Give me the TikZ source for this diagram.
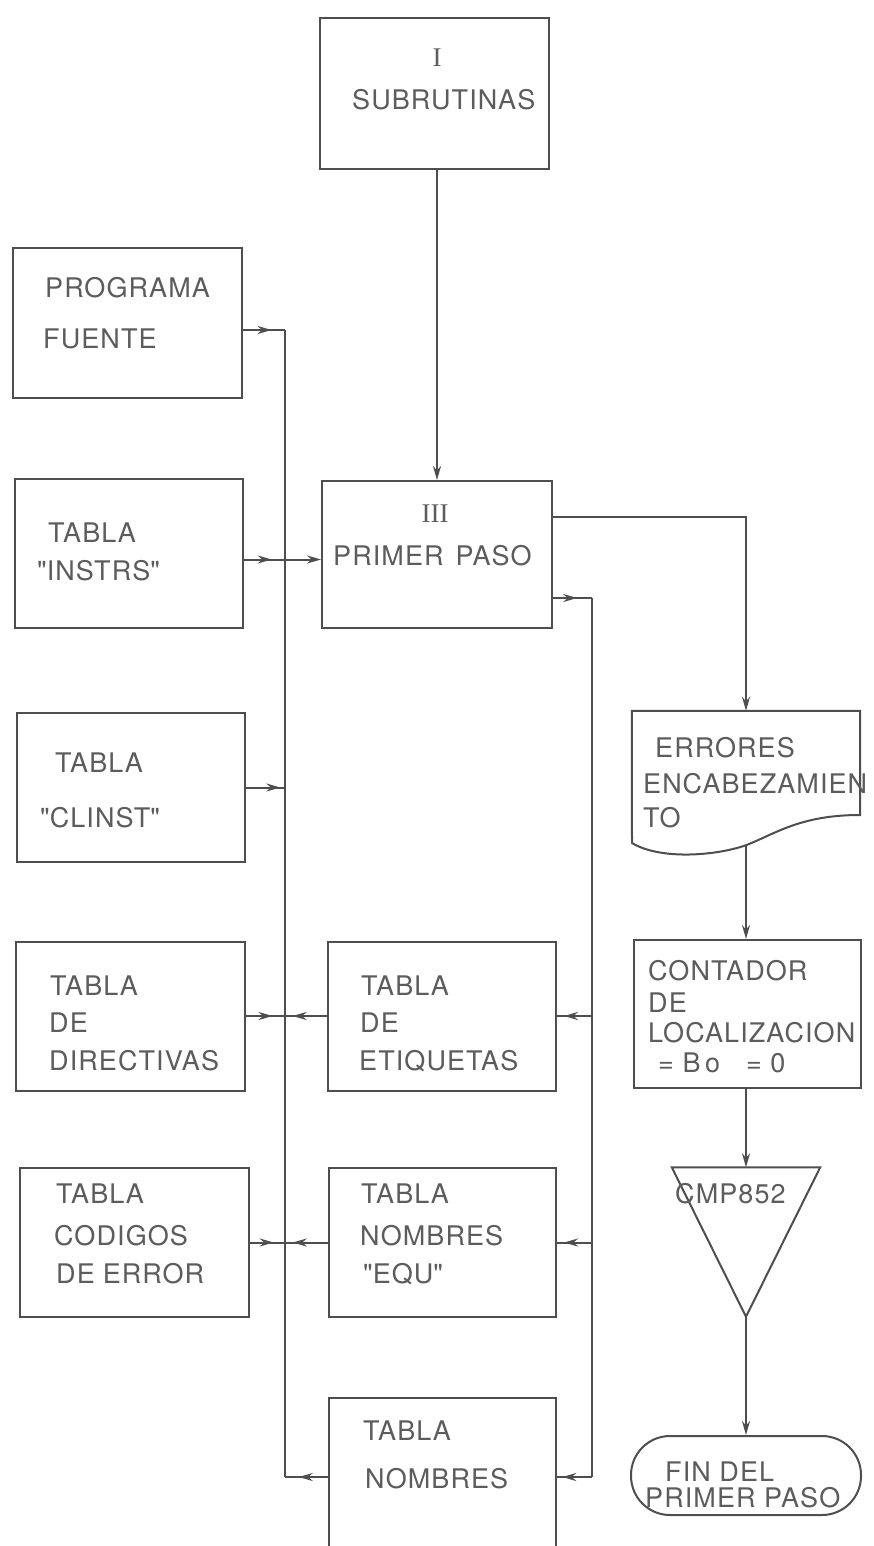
\documentclass[tikz,border=0pt]{standalone}
\usepackage{fontspec}
\setmainfont{TeX Gyre Heros}[LetterSpace=4.0]
\newfontfamily\romnum{Liberation Serif}
\usetikzlibrary{arrows.meta,decorations.markings}
\definecolor{ink}{HTML}{4E4E4E}
\definecolor{txtc}{HTML}{5C5C5C}
\newcommand{\qd}{\textquotedbl}
\tikzset{
  ln/.style={draw=ink, line width=2pt},
  tbox/.style={ln, rectangle, inner sep=0pt},
  ghost/.style={rectangle, inner sep=0pt},
  tx/.style={text=txtc, inner sep=0pt, anchor=base west, font=\fontsize{27}{30}\selectfont},
  txc/.style={tx, anchor=base},
  arr/.style={ln, -{Stealth[length=14pt,width=8pt]}},
  midarr/.style={ln, postaction={decorate}, decoration={markings, mark=at position #1 with {\arrow{Stealth[length=14pt,width=8pt]}}}},
}
\begin{document}
\begin{tikzpicture}[x=1pt,y=-1pt]
\useasboundingbox (0,0) rectangle (873,1546);
\fill[white] (0,0) rectangle (873,1546);
\clip (0,0) rectangle (873,1546);

% boxes
\node[tbox, minimum width=229pt, minimum height=151pt] (sub) at (434,93.5) {};
\node[tbox, minimum width=229pt, minimum height=150pt] (fuente) at (127.5,323) {};
\node[tbox, minimum width=228pt, minimum height=149pt] (instrs) at (129,553.5) {};
\node[tbox, minimum width=230pt, minimum height=147pt] (paso) at (437,554.5) {};
\node[tbox, minimum width=228pt, minimum height=149pt] (clinst) at (131,787.5) {};
\node[tbox, minimum width=229pt, minimum height=149pt] (direct) at (130.5,1016) {};
\node[tbox, minimum width=228pt, minimum height=149pt] (etiq) at (442,1016) {};
\node[tbox, minimum width=229pt, minimum height=149pt] (codigos) at (134,1242.5) {};
\node[tbox, minimum width=227pt, minimum height=149pt] (equ) at (442.5,1242.5) {};
\node[tbox, minimum width=227pt, minimum height=158pt] (nombres) at (442.5,1477) {};
\node[tbox, minimum width=227pt, minimum height=148pt] (cont) at (747.5,1014) {};
\node[ghost, minimum width=228pt, minimum height=134pt] (doc) at (746,778) {};
\node[ghost, minimum width=148pt, minimum height=149pt] (tri) at (746,1242) {};
\node[tbox, rounded corners=39pt, minimum width=230pt, minimum height=79pt] (fin) at (746,1475.5) {};

% document shape
\draw[ln] (doc.north west) -- (doc.north east) -- (860,815)
  .. controls (800,815) and (775,834) .. (doc.south)
  .. controls (715,856) and (660,860) .. (632,843) -- cycle;
% merge triangle
\draw[ln, line join=miter] (tri.north west) -- (tri.north east) -- (tri.south) -- cycle;

% texts
\node[txc, font=\romnum\fontsize{27}{30}\selectfont] (t-sub1) at (437,67) {I};
\node[tx] (t-sub2) at (352,110) {SUBRUTINAS};
\node[tx] (t-fue1) at (45,297) {PROGRAMA};
\node[tx] (t-fue2) at (43,348) {FUENTE};
\node[tx] (t-ins1) at (48,542) {TABLA};
\node[tx] (t-ins2) at (37,580) {\qd INSTRS\qd};
\node[txc, font=\romnum\fontsize{27}{30}\selectfont] (t-pas1) at (435,522) {III};
\node[tx] (t-pas2) at (333,565) {PRIMER\hspace{12pt}PASO};
\node[tx] (t-cli1) at (55,772) {TABLA};
\node[tx] (t-cli2) at (40,827) {\qd CLINST\qd};
\node[tx] (t-dir1) at (50,995) {TABLA};
\node[tx] (t-dir2) at (49,1032) {DE};
\node[tx] (t-dir3) at (49,1070) {DIRECTIVAS};
\node[tx] (t-eti1) at (361,995) {TABLA};
\node[tx] (t-eti2) at (360,1032) {DE};
\node[tx] (t-eti3) at (359,1070) {ETIQUETAS};
\node[tx] (t-cod1) at (56,1203) {TABLA};
\node[tx] (t-cod2) at (54,1245) {CODIGOS};
\node[tx] (t-cod3) at (56,1283) {DE\hspace{8pt}ERROR};
\node[tx] (t-equ1) at (361,1203) {TABLA};
\node[tx] (t-equ2) at (360,1245) {NOMBRES};
\node[tx] (t-equ3) at (363,1283) {\qd EQU\qd};
\node[tx] (t-nom1) at (363,1440) {TABLA};
\node[tx] (t-nom2) at (365,1488) {NOMBRES};
\node[tx] (t-doc1) at (655,757) {ERRORES};
\node[tx] (t-doc2) at (643,793) {ENCABEZAMIEN};
\node[tx] (t-doc3) at (643,827) {TO};
\node[tx] (t-con1) at (648,980) {CONTADOR};
\node[tx] (t-con2) at (648,1012) {DE};
\node[tx] (t-con3) at (648,1042) {LOCALIZACION};
\node[tx] (t-con4) at (658,1072) {=\ B\,o\hspace{26pt}=\ 0};
\node[tx] (t-cmp) at (675,1203) {CMP852};
\node[tx] (t-fin1) at (665,1481) {FIN\ DEL};
\node[tx] (t-fin2) at (645,1507) {PRIMER\ PASO};

% bus coordinates
\coordinate (busTop) at (285,330);
\coordinate (busBot) at (285,1477);
\coordinate (rTop) at (592,598);
\coordinate (rBot) at (592,1477);
\coordinate (iy) at ([yshift=-6pt]instrs.east);
\coordinate (po) at ([yshift=-37pt]paso.north east);

% connectors
\draw[arr] (paso.north |- sub.south) -- (paso.north);
\draw[midarr=0.68] (fuente.east |- busTop) -- (busTop);
\draw[ln] (busTop) -- (busBot);
\draw[arr, midarr=0.36] (iy) -- (iy -| paso.west);
\draw[midarr=0.88] (clinst.east) -- (clinst.east -| busTop);
\draw[midarr=0.68] (direct.east) -- (direct.east -| busTop);
\draw[midarr=0.82] (etiq.west) -- (etiq.west -| busTop);
\draw[midarr=0.68] (codigos.east) -- (codigos.east -| busTop);
\draw[midarr=0.82] (equ.west) -- (equ.west -| busTop);
\draw[midarr=0.68] (nombres.west |- busBot) -- (busBot);
\draw[midarr=0.62] (paso.east |- rTop) -- (rTop);
\draw[ln] (rTop) -- (rBot);
\draw[midarr=0.8] (etiq.east -| rTop) -- (etiq.east);
\draw[midarr=0.8] (equ.east -| rTop) -- (equ.east);
\draw[midarr=0.85] (rBot) -- (nombres.east |- rBot);
\draw[arr] (po) -| (doc.north);
\draw[arr] (doc.south) -- (doc.south |- cont.north);
\draw[arr] (cont.south -| tri.north) -- (tri.north);
\draw[arr] (tri.south) -- (fin.north);
\end{tikzpicture}
\end{document}
